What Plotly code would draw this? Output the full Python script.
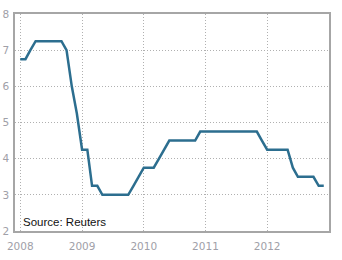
import plotly.graph_objects as go
import pandas as pd

months = pd.date_range("2008-01-01", "2012-12-01", freq="MS")
rate_2008 = [6.75, 6.75, 7.0, 7.25, 7.25, 7.25, 7.25, 7.25, 7.25, 7.0, 6.0, 5.25]
rate_2009 = [4.25, 4.25, 3.25, 3.25, 3.0, 3.0, 3.0, 3.0, 3.0, 3.0, 3.25, 3.5]
rate_2010 = [3.75, 3.75, 3.75, 4.0, 4.25, 4.5, 4.5, 4.5, 4.5, 4.5, 4.5, 4.75]
rate_2011 = [4.75, 4.75, 4.75, 4.75, 4.75, 4.75, 4.75, 4.75, 4.75, 4.75, 4.75, 4.5]
rate_2012 = [4.25, 4.25, 4.25, 4.25, 4.25, 3.75, 3.5, 3.5, 3.5, 3.5, 3.25, 3.25]
rates = rate_2008 + rate_2009 + rate_2010 + rate_2011 + rate_2012

x_ticks = ["2008-01-01", "2009-01-01", "2010-01-01", "2011-01-01", "2012-01-01"]
x_tick_labels = ["2008", "2009", "2010", "2011", "2012"]
y_ticks = [2, 3, 4, 5, 6, 7, 8]

fig = go.Figure()
fig.add_trace(go.Scatter(
    x=months, y=rates, mode="lines",
    line=dict(color="#2c6e8f", width=2.5),
    hoverinfo="skip", showlegend=False,
))

axis_common = dict(
    showline=True, linecolor="#a6a6a6", linewidth=1.5, mirror=True,
    showgrid=True, gridcolor="#b0b0b0", gridwidth=1, griddash="1px,2px",
    zeroline=False, ticks="", automargin=False,
    tickfont=dict(family="DejaVu Sans, Verdana, sans-serif", size=10.5, color="#a0a0a8"),
)

fig.update_layout(
    width=342, height=260,
    margin=dict(l=15, r=13, t=14, b=29),
    paper_bgcolor="white", plot_bgcolor="white",
    xaxis=dict(range=["2007-12-01", "2013-01-01"], tickvals=x_ticks, ticktext=x_tick_labels,
               ticklabelstandoff=5, **axis_common),
    yaxis=dict(range=[2, 8], tickvals=y_ticks, ticklabelstandoff=2, **axis_common),
    annotations=[dict(
        text="Source: Reuters", xref="paper", yref="paper", x=0.02, y=0.042,
        xanchor="left", yanchor="middle", showarrow=False,
        font=dict(family="Liberation Sans, Arial, sans-serif", size=11.5, color="#111111"),
    )],
)

fig.write_html("out.html")
